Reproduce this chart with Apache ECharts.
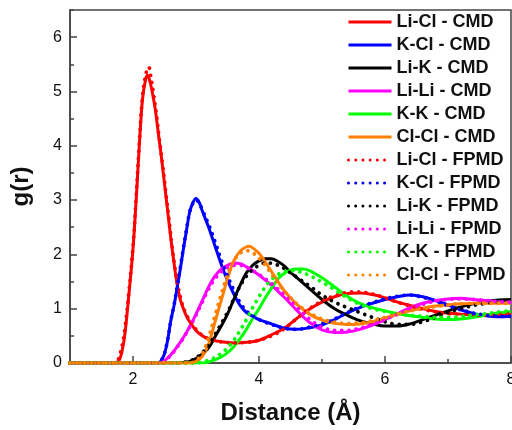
<!DOCTYPE html>
<html>
<head>
<meta charset="utf-8">
<script src="https://cdn.jsdelivr.net/npm/echarts@6/dist/echarts.min.js"></script>
<style>
html,body{margin:0;padding:0;background:#fff;}
#chart{width:512px;height:430px;}
</style>
</head>
<body>
<div id="chart"></div>
<script>
// ---- data: [r (Å), g(r)] ----
const liClCMD = [[1.0,0],[1.7,0],[1.78,0.05],[1.84,0.3],[1.88,0.62],[1.93,1.2],[2.0,2.1],[2.05,3.0],[2.1,4.0],[2.15,4.85],[2.2,5.22],[2.23,5.3],[2.27,5.18],[2.3,5.02],[2.35,4.7],[2.4,4.25],[2.45,3.8],[2.5,3.3],[2.55,2.8],[2.6,2.3],[2.65,1.85],[2.7,1.45],[2.75,1.17],[2.8,1.0],[2.85,0.86],[2.9,0.76],[3.0,0.6],[3.1,0.5],[3.2,0.44],[3.4,0.39],[3.6,0.37],[3.8,0.38],[4.0,0.42],[4.2,0.52],[4.4,0.64],[4.6,0.82],[4.8,0.99],[5.0,1.12],[5.2,1.22],[5.4,1.28],[5.6,1.29],[5.8,1.26],[6.0,1.2],[6.2,1.12],[6.4,1.06],[6.6,1.0],[6.8,0.95],[7.0,0.92],[7.2,0.9],[7.5,0.88],[7.8,0.89],[8.0,0.9]];
const kClCMD = [[1.0,0],[2.4,0],[2.45,0.05],[2.5,0.17],[2.55,0.42],[2.6,0.78],[2.65,1.05],[2.7,1.38],[2.75,1.72],[2.8,2.1],[2.85,2.45],[2.9,2.78],[2.95,2.95],[3.0,3.03],[3.05,2.96],[3.1,2.8],[3.2,2.5],[3.3,2.16],[3.4,1.82],[3.5,1.52],[3.6,1.27],[3.7,1.06],[3.8,0.93],[3.9,0.86],[4.0,0.8],[4.2,0.72],[4.4,0.64],[4.6,0.62],[4.8,0.65],[5.0,0.7],[5.2,0.8],[5.4,0.92],[5.6,1.02],[5.8,1.1],[6.0,1.17],[6.2,1.22],[6.4,1.25],[6.6,1.22],[6.8,1.15],[7.0,1.07],[7.2,0.98],[7.4,0.91],[7.6,0.87],[7.8,0.85],[8.0,0.86]];
const liKCMD = [[1.0,0],[2.7,0],[2.8,0.01],[2.9,0.03],[3.0,0.08],[3.1,0.17],[3.2,0.28],[3.3,0.48],[3.4,0.68],[3.5,0.9],[3.6,1.17],[3.7,1.43],[3.8,1.66],[3.9,1.8],[4.0,1.88],[4.1,1.92],[4.2,1.92],[4.3,1.87],[4.4,1.79],[4.5,1.67],[4.6,1.57],[4.8,1.37],[5.0,1.17],[5.2,1.0],[5.4,0.88],[5.6,0.78],[5.8,0.72],[6.0,0.68],[6.2,0.68],[6.4,0.72],[6.6,0.8],[6.8,0.88],[7.0,0.96],[7.2,1.03],[7.4,1.09],[7.6,1.13],[7.8,1.16],[8.0,1.17]];
const liLiCMD = [[1.0,0],[2.45,0],[2.5,0.04],[2.6,0.15],[2.7,0.3],[2.8,0.47],[2.9,0.67],[3.0,0.9],[3.1,1.15],[3.2,1.4],[3.3,1.6],[3.4,1.73],[3.5,1.8],[3.6,1.84],[3.7,1.83],[3.8,1.77],[3.9,1.7],[4.0,1.62],[4.2,1.43],[4.4,1.21],[4.6,0.97],[4.8,0.75],[5.0,0.61],[5.2,0.56],[5.4,0.57],[5.6,0.62],[5.8,0.7],[6.0,0.8],[6.2,0.91],[6.4,1.02],[6.6,1.1],[6.8,1.15],[7.0,1.18],[7.2,1.19],[7.4,1.17],[7.6,1.15],[7.8,1.13],[8.0,1.12]];
const kKCMD = [[1.0,0],[3.1,0],[3.2,0.02],[3.3,0.06],[3.4,0.11],[3.5,0.19],[3.6,0.3],[3.7,0.45],[3.8,0.62],[3.9,0.82],[4.0,1.0],[4.1,1.2],[4.2,1.38],[4.3,1.55],[4.4,1.65],[4.5,1.71],[4.6,1.73],[4.7,1.73],[4.8,1.7],[5.0,1.57],[5.2,1.4],[5.4,1.23],[5.6,1.1],[5.8,1.02],[6.0,0.96],[6.2,0.91],[6.4,0.87],[6.6,0.84],[6.8,0.81],[7.0,0.8],[7.2,0.81],[7.4,0.84],[7.6,0.88],[7.8,0.92],[8.0,0.95]];
const clClCMD = [[1.0,0],[2.9,0],[3.0,0.03],[3.1,0.12],[3.2,0.35],[3.3,0.75],[3.4,1.15],[3.5,1.55],[3.6,1.88],[3.7,2.06],[3.8,2.14],[3.85,2.15],[3.9,2.12],[4.0,2.02],[4.1,1.86],[4.2,1.68],[4.3,1.5],[4.4,1.33],[4.5,1.2],[4.6,1.08],[4.8,0.9],[5.0,0.79],[5.2,0.73],[5.4,0.71],[5.6,0.72],[5.8,0.76],[6.0,0.83],[6.2,0.9],[6.4,0.96],[6.6,1.01],[6.8,1.05],[7.0,1.07],[7.2,1.09],[7.5,1.1],[8.0,1.1]];
const liClFPMD = [[1.0,0],[1.7,0],[1.76,0.05],[1.82,0.28],[1.87,0.62],[1.93,1.25],[2.0,2.15],[2.05,3.05],[2.1,4.05],[2.15,4.9],[2.2,5.3],[2.25,5.45],[2.28,5.3],[2.32,5.0],[2.37,4.6],[2.42,4.1],[2.47,3.65],[2.52,3.15],[2.57,2.65],[2.62,2.15],[2.67,1.72],[2.72,1.38],[2.77,1.13],[2.82,0.96],[2.9,0.78],[3.0,0.62],[3.1,0.51],[3.2,0.45],[3.4,0.39],[3.6,0.37],[3.8,0.38],[4.0,0.42],[4.2,0.5],[4.4,0.63],[4.6,0.82],[4.8,1.0],[5.0,1.14],[5.2,1.24],[5.4,1.3],[5.6,1.31],[5.8,1.27],[6.0,1.2],[6.2,1.12],[6.4,1.05],[6.6,0.99],[6.8,0.94],[7.0,0.91],[7.2,0.89],[7.5,0.88],[7.8,0.9],[8.0,0.92]];
const kClFPMD = [[1.0,0],[2.4,0],[2.45,0.05],[2.5,0.18],[2.55,0.43],[2.6,0.78],[2.65,1.06],[2.7,1.4],[2.75,1.75],[2.8,2.12],[2.85,2.47],[2.9,2.78],[2.95,2.94],[3.0,3.0],[3.05,2.95],[3.1,2.82],[3.2,2.55],[3.3,2.24],[3.4,1.9],[3.5,1.6],[3.6,1.34],[3.7,1.11],[3.8,0.96],[3.9,0.87],[4.0,0.8],[4.2,0.71],[4.4,0.64],[4.6,0.62],[4.8,0.66],[5.0,0.72],[5.2,0.81],[5.4,0.93],[5.6,1.03],[5.8,1.11],[6.0,1.18],[6.2,1.23],[6.4,1.25],[6.6,1.21],[6.8,1.14],[7.0,1.06],[7.2,0.98],[7.4,0.92],[7.6,0.88],[7.8,0.86],[8.0,0.86]];
const liKFPMD = [[1.0,0],[2.7,0],[2.8,0.01],[2.9,0.04],[3.0,0.09],[3.1,0.19],[3.2,0.32],[3.3,0.52],[3.4,0.72],[3.5,0.93],[3.6,1.18],[3.7,1.42],[3.8,1.6],[3.9,1.72],[4.0,1.8],[4.1,1.84],[4.2,1.84],[4.3,1.8],[4.4,1.74],[4.5,1.66],[4.6,1.58],[4.8,1.42],[5.0,1.25],[5.2,1.12],[5.4,1.02],[5.6,0.93],[5.8,0.84],[6.0,0.76],[6.2,0.71],[6.4,0.71],[6.6,0.76],[6.8,0.84],[7.0,0.93],[7.2,1.0],[7.4,1.06],[7.6,1.1],[7.8,1.13],[8.0,1.15]];
const liLiFPMD = [[1.0,0],[2.45,0],[2.5,0.04],[2.6,0.14],[2.7,0.29],[2.8,0.46],[2.9,0.66],[3.0,0.88],[3.1,1.12],[3.2,1.36],[3.3,1.55],[3.4,1.68],[3.5,1.76],[3.6,1.8],[3.7,1.8],[3.8,1.76],[3.9,1.7],[4.0,1.63],[4.2,1.46],[4.4,1.26],[4.6,1.03],[4.8,0.81],[5.0,0.66],[5.2,0.6],[5.4,0.6],[5.6,0.64],[5.8,0.71],[6.0,0.8],[6.2,0.9],[6.4,1.0],[6.6,1.08],[6.8,1.14],[7.0,1.17],[7.2,1.18],[7.4,1.17],[7.6,1.15],[7.8,1.13],[8.0,1.12]];
const kKFPMD = [[1.0,0],[3.0,0],[3.1,0.02],[3.2,0.05],[3.3,0.1],[3.4,0.18],[3.5,0.28],[3.6,0.42],[3.7,0.6],[3.8,0.8],[3.9,1.02],[4.0,1.22],[4.1,1.4],[4.2,1.54],[4.3,1.63],[4.4,1.68],[4.5,1.7],[4.6,1.69],[4.7,1.66],[4.8,1.61],[5.0,1.49],[5.2,1.35],[5.4,1.2],[5.6,1.08],[5.8,1.0],[6.0,0.95],[6.2,0.91],[6.4,0.88],[6.6,0.86],[6.8,0.84],[7.0,0.84],[7.2,0.86],[7.4,0.88],[7.6,0.91],[7.8,0.94],[8.0,0.96]];
const clClFPMD = [[1.0,0],[2.9,0],[3.0,0.05],[3.1,0.17],[3.2,0.47],[3.3,0.87],[3.4,1.26],[3.5,1.62],[3.6,1.88],[3.7,2.02],[3.8,2.07],[3.9,2.03],[4.0,1.93],[4.1,1.8],[4.2,1.64],[4.3,1.48],[4.4,1.33],[4.5,1.2],[4.6,1.09],[4.8,0.92],[5.0,0.81],[5.2,0.75],[5.4,0.73],[5.6,0.74],[5.8,0.78],[6.0,0.84],[6.2,0.9],[6.4,0.96],[6.6,1.0],[6.8,1.04],[7.0,1.07],[7.2,1.09],[7.5,1.1],[8.0,1.1]];

const seriesNames = ['Li-Cl - CMD','K-Cl - CMD','Li-K - CMD','Li-Li - CMD','K-K - CMD','Cl-Cl - CMD',
                     'Li-Cl - FPMD','K-Cl - FPMD','Li-K - FPMD','Li-Li - FPMD','K-K - FPMD','Cl-Cl - FPMD'];
const seriesData = [liClCMD,kClCMD,liKCMD,liLiCMD,kKCMD,clClCMD,liClFPMD,kClFPMD,liKFPMD,liLiFPMD,kKFPMD,clClFPMD];
const seriesColors = ['#ff0000','#0000ff','#000000','#ff00ff','#00ff00','#ff8000'];

// tick values
const xMajorTicks = [2,4,6,8];
const xMinorTicks = [3,5,7];
const yMajorTicks = [0,1,2,3,4,5,6];
const yMinorTicks = [0.5,1.5,2.5,3.5,4.5,5.5,6.5];

const FONT = '"Liberation Sans", Arial, Helvetica, sans-serif';
const AX = '#444';

const series = seriesData.map((d, i) => {
  const dotted = i >= 6;
  return {
    name: seriesNames[i],
    type: 'line',
    xAxisIndex: 0, yAxisIndex: 0,
    data: d,
    symbol: 'none',
    showSymbol: false,
    smooth: 0.35,
    color: seriesColors[i % 6],
    itemStyle: {color: seriesColors[i % 6]},
    lineStyle: dotted
      ? {width: 3.8, type: [0.01, 7.2], cap: 'round', color: seriesColors[i % 6]}
      : {width: 3, color: seriesColors[i % 6]},
    emphasis: {disabled: true},
    animation: false
  };
});

const chart = echarts.init(document.getElementById('chart'), null, {renderer: 'canvas'});
chart.setOption({
  backgroundColor: '#fff',
  animation: false,
  grid: [
    {left: 70, top: 10, right: 1, bottom: 67, outerBoundsMode: 'none', containLabel: false, show: true, borderColor: AX, borderWidth: 1.5, backgroundColor: 'transparent'},
    {left: 70, top: 10, right: 1, bottom: 67, outerBoundsMode: 'none', containLabel: false, show: false}
  ],
  xAxis: [
    {
      type: 'value', gridIndex: 0, min: 1, max: 8,
      axisLine: {show: true, onZero: false, lineStyle: {color: AX, width: 1.5}},
      axisTick: {show: true, inside: true, length: 7, customValues: xMajorTicks, lineStyle: {color: AX, width: 1.5}},
      axisLabel: {customValues: xMajorTicks, fontSize: 16, color: '#111', margin: 9, fontFamily: FONT},
      splitLine: {show: false},
      name: 'Distance (Å)', nameLocation: 'middle', nameGap: 38,
      nameTextStyle: {fontSize: 24, fontWeight: 'bold', color: '#111', fontFamily: FONT}
    },
    {
      type: 'value', gridIndex: 1, min: 1, max: 8,
      axisLine: {show: false},
      axisTick: {show: true, inside: true, length: 4, customValues: xMinorTicks, lineStyle: {color: AX, width: 1.5}},
      axisLabel: {show: false},
      splitLine: {show: false}
    }
  ],
  yAxis: [
    {
      type: 'value', gridIndex: 0, min: 0, max: 6.5,
      axisLine: {show: true, onZero: false, lineStyle: {color: AX, width: 1.5}},
      axisTick: {show: true, inside: true, length: 7, customValues: yMajorTicks, lineStyle: {color: AX, width: 1.5}},
      axisLabel: {customValues: yMajorTicks, fontSize: 16, color: '#111', margin: 8, fontFamily: FONT},
      splitLine: {show: false},
      name: 'g(r)', nameLocation: 'middle', nameGap: 37, nameRotate: 90,
      nameTextStyle: {fontSize: 24, fontWeight: 'bold', color: '#111', fontFamily: FONT}
    },
    {
      type: 'value', gridIndex: 1, min: 0, max: 6.5,
      axisLine: {show: false},
      axisTick: {show: true, inside: true, length: 4, customValues: yMinorTicks, lineStyle: {color: AX, width: 1.5}},
      axisLabel: {show: false},
      splitLine: {show: false}
    }
  ],
  legend: {
    orient: 'vertical',
    left: 347, top: 13,
    padding: 0,
    itemWidth: 43, itemHeight: 14, itemGap: 5,
    data: seriesNames,
    selectedMode: false,
    itemStyle: {opacity: 0},
    textStyle: {fontSize: 18, fontWeight: 'bold', color: '#111', fontFamily: FONT, lineHeight: 18},
    lineStyle: {width: 3}
  },
  series: series
});
</script>
</body>
</html>
